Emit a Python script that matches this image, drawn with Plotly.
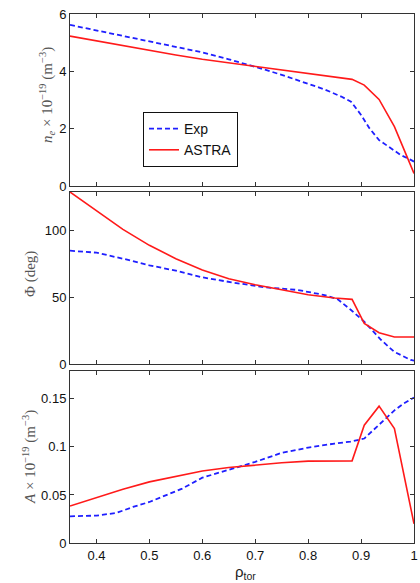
import plotly.graph_objects as go

# ---------------- data ----------------
rho_ne_exp = [0.35, 0.40, 0.45, 0.50, 0.55, 0.60, 0.65, 0.70, 0.72, 0.756, 0.80, 0.831, 0.8625, 0.881, 0.90, 0.916, 0.934, 0.956, 0.975, 0.994, 1.0]
ne_exp = [5.62, 5.43, 5.24, 5.04, 4.85, 4.66, 4.42, 4.16, 4.05, 3.84, 3.58, 3.37, 3.12, 2.94, 2.48, 2.01, 1.60, 1.31, 1.08, 0.91, 0.85]
rho_ne_astra = [0.35, 0.40, 0.45, 0.50, 0.55, 0.60, 0.65, 0.70, 0.75, 0.80, 0.85, 0.883, 0.906, 0.934, 0.963, 1.0]
ne_astra = [5.23, 5.06, 4.89, 4.73, 4.57, 4.42, 4.30, 4.18, 4.05, 3.93, 3.80, 3.72, 3.52, 3.02, 2.07, 0.44]

rho_phi_exp = [0.35, 0.40, 0.45, 0.50, 0.55, 0.60, 0.656, 0.719, 0.781, 0.831, 0.856, 0.881, 0.906, 0.938, 0.9625, 0.994, 1.0]
phi_exp = [85.0, 83.5, 79.0, 74.0, 70.0, 65.0, 61.2, 57.5, 55.5, 51.7, 48.5, 40.5, 31.7, 18.0, 9.2, 3.0, 2.5]
rho_phi_astra = [0.35, 0.40, 0.45, 0.50, 0.55, 0.60, 0.65, 0.70, 0.75, 0.80, 0.85, 0.883, 0.906, 0.934, 0.963, 1.0]
phi_astra = [129.0, 115.0, 101.0, 89.0, 79.0, 70.5, 64.0, 59.5, 55.5, 52.0, 49.5, 48.5, 30.5, 23.5, 20.3, 20.3]

rho_a_exp = [0.35, 0.40, 0.4375, 0.469, 0.50, 0.531, 0.562, 0.60, 0.656, 0.70, 0.75, 0.80, 0.85, 0.88, 0.906, 0.934, 0.963, 0.98, 1.0]
a_exp = [0.0278, 0.0285, 0.0313, 0.0375, 0.0427, 0.0497, 0.0566, 0.0680, 0.0775, 0.0844, 0.0938, 0.0993, 0.1035, 0.1055, 0.1087, 0.1226, 0.1380, 0.1450, 0.1514]
rho_a_astra = [0.35, 0.40, 0.45, 0.50, 0.55, 0.60, 0.65, 0.70, 0.75, 0.80, 0.85, 0.883, 0.906, 0.934, 0.963, 1.0]
a_astra = [0.0385, 0.0475, 0.0560, 0.0636, 0.0695, 0.0750, 0.0785, 0.0812, 0.0835, 0.0852, 0.0858, 0.0855, 0.1226, 0.1424, 0.1190, 0.0200]

x_tickvals = [0.4, 0.5, 0.6, 0.7, 0.8, 0.9, 1.0]
x_ticktext = ["0.4", "0.5", "0.6", "0.7", "0.8", "0.9", "1"]

# ---------------- styles ----------------
BLUE = "#1f1fff"
RED = "#ff1a1a"
exp_line = dict(color=BLUE, width=1.8, dash="5px,3px")
astra_line = dict(color=RED, width=1.6)

fig = go.Figure()
fig.add_trace(go.Scatter(x=rho_ne_exp, y=ne_exp, mode="lines", line=exp_line, name="Exp", xaxis="x", yaxis="y"))
fig.add_trace(go.Scatter(x=rho_ne_astra, y=ne_astra, mode="lines", line=astra_line, name="ASTRA", xaxis="x", yaxis="y"))
fig.add_trace(go.Scatter(x=rho_phi_exp, y=phi_exp, mode="lines", line=exp_line, showlegend=False, xaxis="x2", yaxis="y2"))
fig.add_trace(go.Scatter(x=rho_phi_astra, y=phi_astra, mode="lines", line=astra_line, showlegend=False, xaxis="x2", yaxis="y2"))
fig.add_trace(go.Scatter(x=rho_a_exp, y=a_exp, mode="lines", line=exp_line, showlegend=False, xaxis="x3", yaxis="y3"))
fig.add_trace(go.Scatter(x=rho_a_astra, y=a_astra, mode="lines", line=astra_line, showlegend=False, xaxis="x3", yaxis="y3"))

AX_COLOR = "#333333"
tickfont = dict(family="Liberation Sans, Arial, sans-serif", size=13, color="#111111")
common = dict(showgrid=False, zeroline=False, showline=True, linecolor=AX_COLOR, linewidth=1,
              mirror="ticks", ticks="inside", ticklen=4, tickcolor=AX_COLOR, tickfont=tickfont,
              automargin=False)

# Plot area (window px): x 70..414, y 14..543
H = 529.0
def dom(top, bot):
    return [(543 - bot) / H, (543 - top) / H]

xcommon = dict(common, range=[0.35, 1.0], tickvals=x_tickvals, ticktext=x_ticktext)
fig.update_layout(
    xaxis=dict(xcommon, anchor="y", showticklabels=False),
    xaxis2=dict(xcommon, anchor="y2", matches="x", showticklabels=False),
    xaxis3=dict(xcommon, anchor="y3", matches="x", showticklabels=True),
    yaxis=dict(common, domain=dom(14, 186), range=[0, 6], tickvals=[0, 2, 4, 6], anchor="x"),
    yaxis2=dict(common, domain=dom(192, 364), range=[0, 129], tickvals=[0, 50, 100], anchor="x2"),
    yaxis3=dict(common, domain=dom(371, 543), range=[0, 0.179], tickvals=[0, 0.05, 0.1, 0.15],
                ticktext=["0", "0.05", "0.1", "0.15"], anchor="x3"),
    width=420, height=583,
    margin=dict(l=70, r=6, t=14, b=40),
    paper_bgcolor="white", plot_bgcolor="white",
    showlegend=True,
    legend=dict(x=(143 - 70) / 344.0, y=(543 - 112) / H, xanchor="left", yanchor="top",
                bordercolor="#111111", borderwidth=1, bgcolor="white",
                font=dict(family="Liberation Sans, Arial, sans-serif", size=14, color="#111111"),
                itemwidth=30, tracegroupgap=0),
)

labfont = dict(family="Liberation Serif, Times New Roman, serif", size=15, color="#555555")

def px_x(px):
    return (px - 70) / 344.0

def px_y(py):
    return (543 - py) / H

fig.add_annotation(text="<i>n<sub>e</sub></i> × 10<sup>−19</sup> (m<sup>−3</sup>)", x=px_x(47), y=px_y(95),
                   xref="paper", yref="paper", textangle=-90, showarrow=False, font=labfont,
                   xanchor="center", yanchor="middle")
fig.add_annotation(text="Φ (deg)", x=px_x(30), y=px_y(274),
                   xref="paper", yref="paper", textangle=-90, showarrow=False, font=labfont,
                   xanchor="center", yanchor="middle")
fig.add_annotation(text="<i>A</i> × 10<sup>−19</sup> (m<sup>−3</sup>)", x=px_x(29), y=px_y(457),
                   xref="paper", yref="paper", textangle=-90, showarrow=False, font=labfont,
                   xanchor="center", yanchor="middle")
fig.add_annotation(text="ρ<sub>tor</sub>", x=px_x(245), y=px_y(572),
                   xref="paper", yref="paper", showarrow=False,
                   font=dict(family="Liberation Sans, Arial, sans-serif", size=15, color="#222222"),
                   xanchor="center", yanchor="middle")

fig.write_html(
    "out.html",
    config={"displayModeBar": False},
    post_script="document.documentElement.style.overflow='hidden';"
                "document.body.style.margin='0';document.body.style.overflow='hidden';",
)
